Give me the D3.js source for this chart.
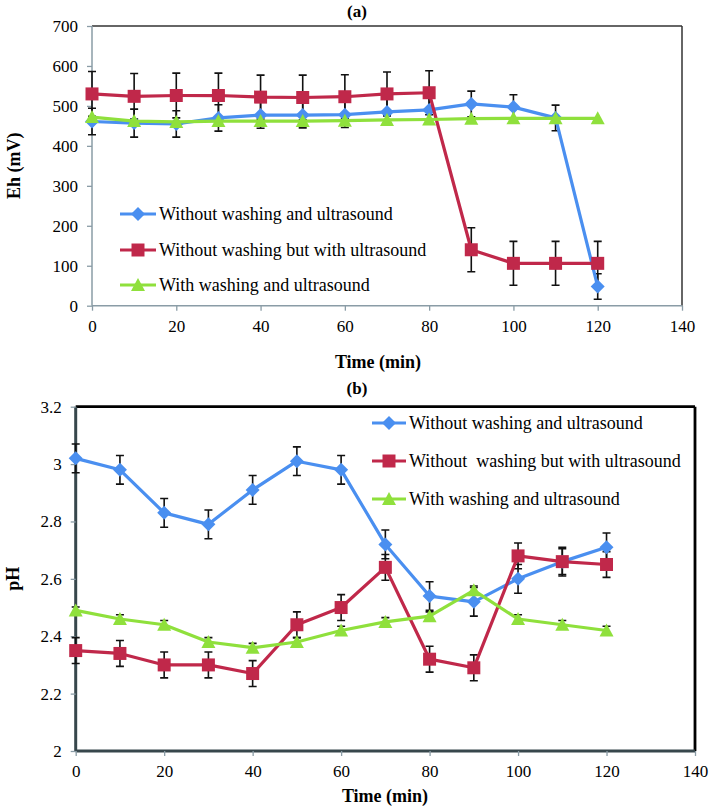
<!DOCTYPE html>
<html><head><meta charset="utf-8">
<script src="https://cdn.jsdelivr.net/npm/d3@7"></script>
<style>
body{margin:0;background:#fff}
svg{display:block}
text{font-family:"Liberation Serif","Times New Roman",serif;fill:#000;white-space:pre}
</style>
</head><body>
<svg id="c" width="709" height="808"></svg>
<script>
// ---------- DATA ----------
const time = [0,10,20,30,40,50,60,70,80,90,100,110,120];
const seriesNamesA = ["Without washing and ultrasound","Without washing but with ultrasound","With washing and ultrasound"];
const seriesNamesB = ["Without washing and ultrasound","Without  washing but with ultrasound","With washing and ultrasound"];
// (a) Eh (mV)
const ehNoWashNoUS   = [461,457,455,470,477,477,478,485,490,505,497,470,48];
const ehNoWashNoUSErr= [33,35,33,33,33,32,32,32,32,32,31,32,32];
const ehNoWashUS     = [530,524,526,526,522,521,523,530,533,140,106,106,106];
const ehNoWashUSErr  = [56,57,56,56,55,56,55,55,55,55,55,55,55];
const ehWashUS       = [472,462,460,462,462,462,463,465,466,468,469,469,469];
const ehWashUSErr    = [0,0,0,0,0,0,0,0,0,0,0,0,0];
const ehTicks = [0,100,200,300,400,500,600,700];
// (b) pH
const phNoWashNoUS   = [3.02,2.98,2.83,2.79,2.91,3.01,2.98,2.72,2.54,2.52,2.60,2.66,2.71];
const phNoWashNoUSErr= [0.05,0.05,0.05,0.05,0.05,0.05,0.05,0.05,0.05,0.05,0.05,0.05,0.05];
const phNoWashUS     = [2.35,2.34,2.30,2.30,2.27,2.44,2.50,2.64,2.32,2.29,2.68,2.66,2.65];
const phNoWashUSErr  = [0.045,0.045,0.045,0.045,0.045,0.045,0.045,0.045,0.045,0.045,0.045,0.045,0.045];
const phWashUS       = [2.49,2.46,2.44,2.38,2.36,2.38,2.42,2.45,2.47,2.56,2.46,2.44,2.42];
const phWashUSErr    = [0.012,0.015,0.015,0.015,0.015,0.015,0.015,0.015,0.015,0.015,0.015,0.015,0.015];
const phTicks = [2,2.2,2.4,2.6,2.8,3,3.2];
const timeTicks = [0,20,40,60,80,100,120,140];

const colors = ["#4a8ff0","#c0284a","#8fe03c"];
const shapes = ["diamond","square","triangle"];

const svg = d3.select("#c");

function markerPath(shape){
  if(shape==="diamond") return "M0,-7L7,0L0,7L-7,0Z";
  if(shape==="square") return "M-6.5,-6.5H6.5V6.5H-6.5Z";
  return "M0,-7L7,6L-7,6Z";
}

function drawPanel(cfg){
  const g = svg.append("g");
  const x = d3.scaleLinear().domain([0,140]).range([cfg.x0,cfg.x1]);
  const y = d3.scaleLinear().domain(cfg.yDomain).range([cfg.yBot,cfg.yTop]);

  // frame
  g.append("line").attr("x1",cfg.x0).attr("x2",cfg.x1).attr("y1",cfg.yTop).attr("y2",cfg.yTop)
    .attr("stroke",cfg.topColor).attr("stroke-width",cfg.topW);
  g.append("line").attr("x1",cfg.x1).attr("x2",cfg.x1).attr("y1",cfg.yTop).attr("y2",cfg.yBot)
    .attr("stroke",cfg.topColor).attr("stroke-width",cfg.topW);

  // axes
  const yAxis = d3.axisLeft(y).tickValues(cfg.yTicks).tickSize(5).tickPadding(9)
    .tickFormat(cfg.yFmt);
  const ya = g.append("g").attr("transform",`translate(${cfg.x0},0)`).call(yAxis);
  const xAxis = d3.axisBottom(x).tickValues(timeTicks).tickSize(5).tickPadding(9);
  const xa = g.append("g").attr("transform",`translate(0,${cfg.yBot})`).call(xAxis);
  [ya,xa].forEach(a=>{
    a.select(".domain").attr("stroke",cfg.axisColor).attr("stroke-width",cfg.axisW);
    a.selectAll(".tick line").attr("stroke",cfg.tickColor).attr("stroke-width",1.3);
    a.selectAll(".tick text").style("font-family",'"Liberation Serif","Times New Roman",serif')
      .style("font-size","17px").attr("fill","#000");
  });
  ya.select(".domain").attr("d",`M0,${cfg.yBot}V${cfg.yTop}`);
  xa.select(".domain").attr("d",`M${cfg.x0},0H${cfg.x1}`);

  // series
  cfg.series.forEach((s,i)=>{
    const pts = time.map((t,k)=>({t,v:s.v[k],e:s.e[k]}));
    // error bars
    const eb = g.append("g");
    pts.filter(p=>p.e>0).forEach(p=>{
      const xp = x(p.t), yt = y(p.v+p.e), yb = y(p.v-p.e);
      eb.append("path").attr("d",`M${xp},${yt}V${yb}M${xp-4},${yt}H${xp+4}M${xp-4},${yb}H${xp+4}`)
        .attr("stroke","#111").attr("stroke-width",1.6).attr("fill","none");
    });
  });
  cfg.series.forEach((s,i)=>{
    const pts = time.map((t,k)=>({t,v:s.v[k]}));
    g.append("path").datum(pts)
      .attr("d",d3.line().x(d=>x(d.t)).y(d=>y(d.v)))
      .attr("fill","none").attr("stroke",colors[i]).attr("stroke-width",3.2).attr("stroke-linejoin","round");
    g.selectAll(null).data(pts).join("path")
      .attr("transform",d=>`translate(${x(d.t)},${y(d.v)})`)
      .attr("d",markerPath(shapes[i])).attr("fill",colors[i]);
  });

  // legend
  cfg.legendY.forEach((ly,i)=>{
    g.append("line").attr("x1",cfg.legX0).attr("x2",cfg.legX1).attr("y1",ly).attr("y2",ly)
      .attr("stroke",colors[i]).attr("stroke-width",3.2);
    g.append("path").attr("transform",`translate(${(cfg.legX0+cfg.legX1)/2},${ly})`)
      .attr("d",markerPath(shapes[i])).attr("fill",colors[i]);
    g.append("text").attr("x",cfg.legX1+3).attr("y",ly+6).style("font-size","18px")
      .text(cfg.names[i]);
  });

  // labels
  g.append("text").attr("x",cfg.titleX).attr("y",cfg.titleY).attr("text-anchor","middle")
    .style("font-size","17px").style("font-weight","bold").text(cfg.title);
  g.append("text").attr("x",cfg.xLabX).attr("y",cfg.xLabY).attr("text-anchor","middle")
    .style("font-size","18px").style("font-weight","bold").text("Time (min)");
  g.append("text").attr("transform",`translate(${cfg.yLabX},${(cfg.yTop+cfg.yBot)/2}) rotate(-90)`)
    .attr("text-anchor","middle").style("font-size","18px").style("font-weight","bold").text(cfg.yLabel);
}

drawPanel({
  x0:92,x1:682,yTop:26,yBot:305.7,yDomain:[0,700],yTicks:ehTicks,yFmt:d3.format("d"),
  topColor:"#333",topW:1.5,axisColor:"#8a9ca6",axisW:1.5,tickColor:"#8a9ca6",
  series:[{v:ehNoWashNoUS,e:ehNoWashNoUSErr},{v:ehNoWashUS,e:ehNoWashUSErr},{v:ehWashUS,e:ehWashUSErr}],
  legendY:[214,250,285],legX0:120,legX1:156,names:seriesNamesA,
  title:"(a)",titleX:357,titleY:17,xLabX:378,xLabY:368,yLabX:20,yLabel:"Eh (mV)"
});
drawPanel({
  x0:75.7,x1:695,yTop:406.7,yBot:751,yDomain:[2,3.2],yTicks:phTicks,yFmt:d=>d3.format("")(+d.toFixed(1)),
  topColor:"#000",topW:2.8,axisColor:"#37474c",axisW:3,tickColor:"#8a9ca6",
  series:[{v:phNoWashNoUS,e:phNoWashNoUSErr},{v:phNoWashUS,e:phNoWashUSErr},{v:phWashUS,e:phWashUSErr}],
  legendY:[423,461,499],legX0:372,legX1:406,names:seriesNamesB,
  title:"(b)",titleX:357,titleY:394,xLabX:385,xLabY:802,yLabX:19,yLabel:"pH"
});
</script>
</body></html>
